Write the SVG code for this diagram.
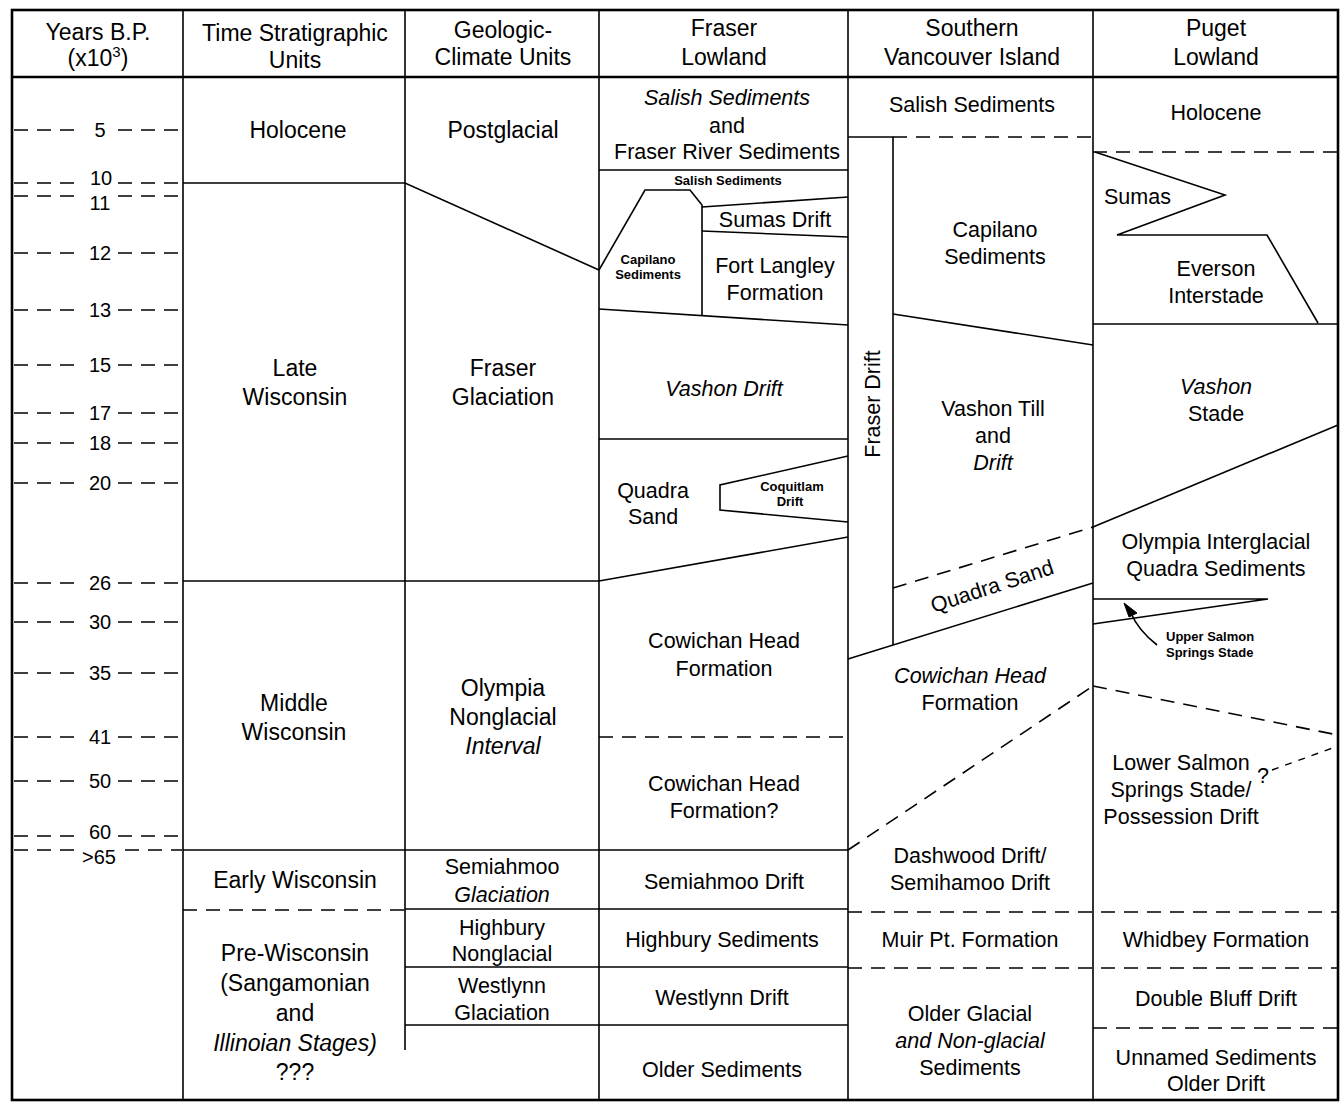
<svg xmlns="http://www.w3.org/2000/svg" width="1341" height="1104" viewBox="0 0 1341 1104">
<style>
text{font-family:"Liberation Sans",Arial,Helvetica,sans-serif;font-size:21.5px;text-anchor:middle;fill:#000}
.h{font-size:23px}
.i{font-style:italic}
.s{font-size:13px;font-weight:bold}
.n{font-size:20px}
.l{stroke:#000;stroke-width:1.6;fill:none}
.b{stroke:#000;stroke-width:2.6;fill:none}
.d{stroke:#000;stroke-width:1.6;fill:none;stroke-dasharray:14 9}
.ds{stroke:#000;stroke-width:1.4;fill:none;stroke-dasharray:7 7}
</style>
<rect width="1341" height="1104" fill="#fff"/>
<g id="frame">
<rect class="b" x="12" y="10" width="1326" height="1090"/>
<line class="b" x1="12" y1="77" x2="1338" y2="77"/>
<line class="l" x1="183" y1="10" x2="183" y2="1100"/>
<line class="l" x1="405" y1="10" x2="405" y2="1050"/>
<line class="l" x1="599" y1="10" x2="599" y2="1100"/>
<line class="l" x1="848" y1="10" x2="848" y2="1100"/>
<line class="l" x1="1093" y1="10" x2="1093" y2="1100"/>
</g>
<g id="connectors">
<g class="d">
<path d="M14 130H80M118 130H182"/>
<path d="M14 183H82M118 183H182"/>
<path d="M14 196H82M118 196H182"/>
<path d="M14 253H80M118 253H182"/>
<path d="M14 310H80M118 310H182"/>
<path d="M14 365H80M118 365H182"/>
<path d="M14 413H80M118 413H182"/>
<path d="M14 443H80M118 443H182"/>
<path d="M14 483H80M118 483H182"/>
<path d="M14 583H80M118 583H182"/>
<path d="M14 622H80M118 622H182"/>
<path d="M14 673H80M118 673H182"/>
<path d="M14 737H80M118 737H182"/>
<path d="M14 781H80M118 781H182"/>
<path d="M14 836H80M118 836H182"/>
<path d="M14 850H80M125 850H182"/>
</g>
<path class="l" d="M183 183H405L599 270"/>
<path class="l" d="M183 581H599L848 537"/>
<path class="l" d="M183 850H848"/>
<path class="d" d="M183 910H405"/>
<path class="l" d="M405 909H848"/>
<path class="l" d="M405 967H848"/>
<path class="l" d="M405 1025H848"/>
<path class="l" d="M599 170H848"/>
<path class="l" d="M599 270L645 190H690L702 205V316"/>
<path class="l" d="M702 207L848 197"/>
<path class="l" d="M702 231L848 237"/>
<path class="l" d="M599 309L848 325"/>
<path class="l" d="M599 439H848"/>
<path class="l" d="M848 456L720 485V510L848 522"/>
<path class="d" d="M599 737H848"/>
<path class="l" d="M848 137H893V645"/>
<path class="d" d="M893 137H1093"/>
<path class="l" d="M893 314L1093 345"/>
<path class="d" d="M893 588L1093 527"/>
<path class="l" d="M848 659L1093 583"/>
<path class="d" d="M848 850L1093 686"/>
<path class="d" d="M848 912H1338"/>
<path class="d" d="M848 968H1338"/>
<path class="d" d="M1093 152H1338"/>
<path class="l" d="M1095 152L1225 195L1117 235H1267L1318 323"/>
<path class="l" d="M1093 324H1338"/>
<path class="l" d="M1093 527L1338 425"/>
<path class="l" d="M1093 599H1268L1093 624"/>
<path class="l" d="M1157 645Q1138 630 1131 613"/>
<path d="M1124 603L1137 613L1129 617Z" fill="#000" stroke="#000" stroke-width="1"/>
<path class="d" d="M1093 686L1338 735"/>
<path class="ds" d="M1272 770L1338 746"/>
<path class="d" d="M1093 1028H1338"/>
</g>
<g id="header">
<text class="h" x="98" y="40">Years B.P.</text>
<text class="h" x="98" y="66">(x10<tspan dy="-9" font-size="15">3</tspan><tspan dy="9">)</tspan></text>
<text class="h" x="295" y="41">Time Stratigraphic</text>
<text class="h" x="295" y="68">Units</text>
<text class="h" x="503" y="38">Geologic-</text>
<text class="h" x="503" y="65">Climate Units</text>
<text class="h" x="724" y="36">Fraser</text>
<text class="h" x="724" y="65">Lowland</text>
<text class="h" x="972" y="36">Southern</text>
<text class="h" x="972" y="65">Vancouver Island</text>
<text class="h" x="1216" y="36">Puget</text>
<text class="h" x="1216" y="65">Lowland</text>
</g>
<g id="years">
<text class="n" x="100" y="137">5</text>
<text class="n" x="101" y="185">10</text>
<text class="n" x="100" y="210">11</text>
<text class="n" x="100" y="260">12</text>
<text class="n" x="100" y="317">13</text>
<text class="n" x="100" y="372">15</text>
<text class="n" x="100" y="420">17</text>
<text class="n" x="100" y="450">18</text>
<text class="n" x="100" y="490">20</text>
<text class="n" x="100" y="590">26</text>
<text class="n" x="100" y="629">30</text>
<text class="n" x="100" y="680">35</text>
<text class="n" x="100" y="744">41</text>
<text class="n" x="100" y="788">50</text>
<text class="n" x="100" y="839">60</text>
<text class="n" x="99" y="864">&gt;65</text>
</g>
<g id="time-strat">
<g id="ts-holocene"><text class="h" x="298" y="138">Holocene</text></g>
<g id="ts-late"><text class="h" x="295" y="376">Late</text><text class="h" x="295" y="405">Wisconsin</text></g>
<g id="ts-middle"><text class="h" x="294" y="711">Middle</text><text class="h" x="294" y="740">Wisconsin</text></g>
<g id="ts-early"><text class="h" x="295" y="888">Early Wisconsin</text></g>
<g id="ts-pre"><text class="h" x="295" y="961">Pre-Wisconsin</text><text class="h" x="295" y="991">(Sangamonian</text><text class="h" x="295" y="1021">and</text><text class="h i" x="295" y="1051">Illinoian Stages)</text><text class="h" x="295" y="1080">???</text></g>
</g>
<g id="geo-climate">
<g id="gc-postglacial"><text class="h" x="503" y="138">Postglacial</text></g>
<g id="gc-fraser"><text class="h" x="503" y="376">Fraser</text><text class="h" x="503" y="405">Glaciation</text></g>
<g id="gc-olympia"><text class="h" x="503" y="696">Olympia</text><text class="h" x="503" y="725">Nonglacial</text><text class="h i" x="503" y="754">Interval</text></g>
<g id="gc-semiahmoo"><text x="502" y="874">Semiahmoo</text><text class="i" x="502" y="902">Glaciation</text></g>
<g id="gc-highbury"><text x="502" y="935">Highbury</text><text x="502" y="961">Nonglacial</text></g>
<g id="gc-westlynn"><text x="502" y="993">Westlynn</text><text x="502" y="1020">Glaciation</text></g>
</g>
<g id="fraser-lowland">
<g id="fl-salish"><text class="i" x="727" y="105">Salish Sediments</text><text x="727" y="133">and</text><text x="727" y="159">Fraser River Sediments</text></g>
<g id="fl-salish-small"><text class="s" x="728" y="185">Salish Sediments</text></g>
<g id="fl-capilano"><text class="s" x="648" y="264" font-size="12">Capilano</text><text class="s" x="648" y="279" font-size="12">Sediments</text></g>
<g id="fl-sumas"><text x="775" y="227">Sumas Drift</text></g>
<g id="fl-fortlangley"><text x="775" y="273">Fort Langley</text><text x="775" y="300">Formation</text></g>
<g id="fl-vashon"><text class="i" x="724" y="396">Vashon Drift</text></g>
<g id="fl-quadra"><text x="653" y="498">Quadra</text><text x="653" y="524">Sand</text></g>
<g id="fl-coquitlam"><text class="s" x="792" y="491">Coquitlam</text><text class="s" x="790" y="506">Drift</text></g>
<g id="fl-cowichan"><text x="724" y="648">Cowichan Head</text><text x="724" y="676">Formation</text></g>
<g id="fl-cowichan2"><text x="724" y="791">Cowichan Head</text><text x="724" y="818">Formation?</text></g>
<g id="fl-semiahmoo"><text x="724" y="889">Semiahmoo Drift</text></g>
<g id="fl-highbury"><text x="722" y="947">Highbury Sediments</text></g>
<g id="fl-westlynn"><text x="722" y="1005">Westlynn Drift</text></g>
<g id="fl-older"><text x="722" y="1077">Older Sediments</text></g>
</g>
<g id="southern-vancouver-island">
<g id="sv-salish"><text x="972" y="112">Salish Sediments</text></g>
<g id="sv-fraserdrift"><text transform="translate(872,404) rotate(-90)" y="7.5">Fraser Drift</text></g>
<g id="sv-capilano"><text x="995" y="237">Capilano</text><text x="995" y="264">Sediments</text></g>
<g id="sv-vashon"><text x="993" y="416">Vashon Till</text><text x="993" y="443">and</text><text class="i" x="993" y="470">Drift</text></g>
<g id="sv-quadra"><text transform="translate(992,586) rotate(-18)" y="7.5">Quadra Sand</text></g>
<g id="sv-cowichan"><text class="i" x="970" y="683">Cowichan Head</text><text x="970" y="710">Formation</text></g>
<g id="sv-dashwood"><text x="970" y="863">Dashwood Drift/</text><text x="970" y="890">Semihamoo Drift</text></g>
<g id="sv-muir"><text x="970" y="947">Muir Pt. Formation</text></g>
<g id="sv-older"><text x="970" y="1021">Older Glacial</text><text class="i" x="970" y="1048">and Non-glacial</text><text x="970" y="1075">Sediments</text></g>
</g>
<g id="puget-lowland">
<g id="pl-holocene"><text x="1216" y="120">Holocene</text></g>
<g id="pl-sumas"><text x="1104" y="204" style="text-anchor:start">Sumas</text></g>
<g id="pl-everson"><text x="1216" y="276">Everson</text><text x="1216" y="303">Interstade</text></g>
<g id="pl-vashon"><text class="i" x="1216" y="394">Vashon</text><text x="1216" y="421">Stade</text></g>
<g id="pl-olympia"><text x="1216" y="549">Olympia Interglacial</text><text x="1216" y="576">Quadra Sediments</text></g>
<g id="pl-upper"><text class="s" x="1166" y="641" style="text-anchor:start">Upper Salmon</text><text class="s" x="1166" y="657" style="text-anchor:start">Springs Stade</text></g>
<g id="pl-lower"><text x="1181" y="770">Lower Salmon</text><text x="1181" y="797">Springs Stade/</text><text x="1181" y="824">Possession Drift</text><text x="1263" y="783" font-size="17">?</text></g>
<g id="pl-whidbey"><text x="1216" y="947">Whidbey Formation</text></g>
<g id="pl-double"><text x="1216" y="1006">Double Bluff Drift</text></g>
<g id="pl-unnamed"><text x="1216" y="1065">Unnamed Sediments</text><text x="1216" y="1091">Older Drift</text></g>
</g>
</svg>
